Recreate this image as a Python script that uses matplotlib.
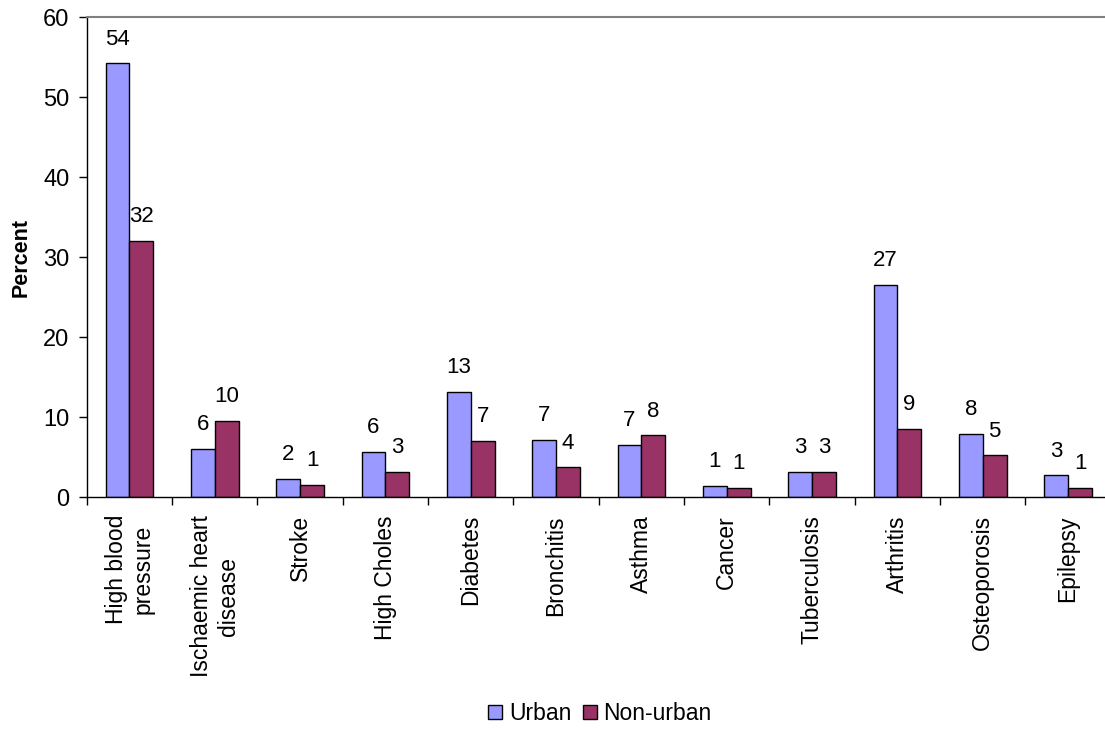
import numpy as np
import matplotlib
matplotlib.use("Agg")
import matplotlib.pyplot as plt

plt.rcParams["font.family"] = ["Liberation Sans", "DejaVu Sans"]

conditions = ["High blood\npressure", "Ischaemic heart\ndisease", "Stroke", "High Choles",
              "Diabetes", "Bronchitis", "Asthma", "Cancer", "Tuberculosis", "Arthritis",
              "Osteoporosis", "Epilepsy"]
urban = [54.2, 6.0, 2.3, 5.6, 13.1, 7.1, 6.55, 1.35, 3.1, 26.5, 7.9, 2.7]
non_urban = [32.0, 9.5, 1.55, 3.1, 7.0, 3.7, 7.7, 1.15, 3.1, 8.5, 5.2, 1.15]
urban_labels = [54, 6, 2, 6, 13, 7, 7, 1, 3, 27, 8, 3]
non_urban_labels = [32, 10, 1, 3, 7, 4, 8, 1, 3, 9, 5, 1]

fig = plt.figure(figsize=(11.05, 7.29), dpi=100)
ax = fig.add_axes([0.0785, 0.3182, 0.9267, 0.6584])

x = np.arange(len(conditions))
w = 0.28
b1 = ax.bar(x - w / 2, urban, w, color="#9999FF", edgecolor="black", linewidth=1, label="Urban")
b2 = ax.bar(x + w / 2, non_urban, w, color="#993366", edgecolor="black", linewidth=1, label="Non-urban")

for bars, labels in [(b1, urban_labels), (b2, non_urban_labels)]:
    for rect, lab in zip(bars, labels):
        ax.annotate(str(lab), (rect.get_x() + rect.get_width() / 2, rect.get_height()),
                    xytext=(0, 10), textcoords="offset points", ha="center", va="bottom",
                    fontsize=16)

ax.set_xlim(-0.5, len(conditions) - 0.5)
ax.set_ylim(0, 60)
ax.set_yticks(range(0, 61, 10))
ax.tick_params(axis="y", direction="out", length=5.5, width=1, pad=7, labelsize=17)

ax.set_xticks(x)
ax.set_xticklabels(conditions, rotation=90, ha="center", va="top", multialignment="center",
                   fontsize=16.5)
ax.set_xticks(np.arange(-0.5, len(conditions), 1), minor=True)
ax.tick_params(axis="x", which="major", length=0, pad=13)
ax.tick_params(axis="x", which="minor", length=6, width=1, direction="out")

ax.set_ylabel("Percent", fontsize=15.5, fontweight="bold", labelpad=8)

ax.spines["right"].set_visible(False)
ax.spines["top"].set_color("#808080")
ax.spines["top"].set_linewidth(1.5)
ax.spines["left"].set_linewidth(1)
ax.spines["bottom"].set_linewidth(1)

fig.legend(handles=[b1, b2], loc="center", bbox_to_anchor=(0.543, 0.021), ncol=2,
           frameon=False, fontsize=16.5, handlelength=0.6, handleheight=0.6,
           handletextpad=0.3, columnspacing=0.5, borderpad=0)

fig.savefig("out.png", dpi=100)
